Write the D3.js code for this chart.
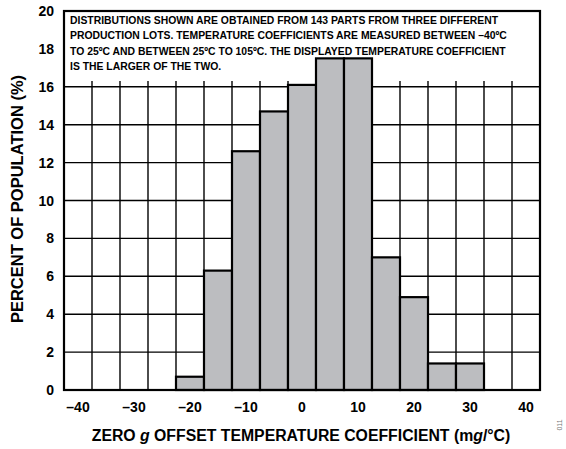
<!DOCTYPE html>
<html>
<head>
<meta charset="utf-8">
<script src="https://cdn.jsdelivr.net/npm/d3@7"></script>
<style>
  body { margin: 0; background: #fff; }
  text { font-family: "Liberation Sans", Arial, sans-serif; font-weight: bold; }
</style>
</head>
<body>
<div id="chart"></div>
<script>
// bin centres (mg/°C) and percent of population
let binCenters = [-20, -15, -10, -5, 0, 5, 10, 15, 20, 25, 30];
let percents = [0.7, 6.3, 12.6, 14.7, 16.1, 17.5, 17.5, 7.0, 4.9, 1.4, 1.4];
let xTicks = [-40, -30, -20, -10, 0, 10, 20, 30, 40];
let yTicks = [0, 2, 4, 6, 8, 10, 12, 14, 16, 18, 20];
let gridY = [2, 4, 6, 8, 10, 12, 14, 16];
let noteLines = [
    "DISTRIBUTIONS SHOWN ARE OBTAINED FROM 143 PARTS FROM THREE DIFFERENT",
    "PRODUCTION LOTS. TEMPERATURE COEFFICIENTS ARE MEASURED BETWEEN \u201340\u00baC",
    "TO 25\u00baC AND BETWEEN 25\u00baC TO 105\u00baC. THE DISPLAYED TEMPERATURE COEFFICIENT",
    "IS THE LARGER OF THE TWO."
];
let binWidth = 5;

let width = 566, height = 449;
let margin = { top: 11, right: 26, bottom: 59, left: 64 };
let plotW = width - margin.left - margin.right;
let plotH = height - margin.top - margin.bottom;

let svg = d3.select("#chart")
    .append("svg")
    .attr("width", width)
    .attr("height", height);

let g = svg.append("g")
    .attr("transform", `translate(${margin.left}, ${margin.top})`);

let x = d3.scaleLinear().domain([-42.5, 42.5]).range([0, plotW]);
let y = d3.scaleLinear().domain([0, 20]).range([plotH, 0]);

// vertical grid lines at bin edges
let edges = d3.range(-42.5, 42.6, binWidth);
g.selectAll(".vgrid")
    .data(edges)
    .enter()
    .append("line")
    .attr("x1", d => x(d))
    .attr("x2", d => x(d))
    .attr("y1", y(0))
    .attr("y2", y(16.3))
    .attr("stroke", "#000")
    .attr("stroke-width", 1.4);

g.selectAll(".hgrid")
    .data(gridY)
    .enter()
    .append("line")
    .attr("x1", 0)
    .attr("x2", plotW)
    .attr("y1", d => y(d))
    .attr("y2", d => y(d))
    .attr("stroke", "#000")
    .attr("stroke-width", 1.4);

// bars
g.selectAll(".bar")
    .data(binCenters)
    .enter()
    .append("rect")
    .attr("x", d => x(d - binWidth / 2))
    .attr("width", x(binWidth) - x(0))
    .attr("y", (d, i) => y(percents[i]))
    .attr("height", (d, i) => y(0) - y(percents[i]))
    .attr("fill", "#bcbdc0")
    .attr("stroke", "#000")
    .attr("stroke-width", 2.2);

// note text
g.selectAll(".note")
    .data(noteLines)
    .enter()
    .append("text")
    .attr("x", 6)
    .attr("y", (d, i) => 12.5 + i * 15.5)
    .style("font-size", "10.4px")
    .text(d => d);

// frame
g.append("rect")
    .attr("width", plotW)
    .attr("height", plotH)
    .attr("fill", "none")
    .attr("stroke", "#000")
    .attr("stroke-width", 2.2);

// y tick labels
g.selectAll(".ylab")
    .data(yTicks)
    .enter()
    .append("text")
    .attr("x", -10)
    .attr("y", d => y(d) + 5)
    .attr("text-anchor", "end")
    .style("font-size", "14px")
    .text(d => d);

// x tick labels
g.selectAll(".xlab")
    .data(xTicks)
    .enter()
    .append("text")
    .attr("x", d => x(d))
    .attr("y", plotH + 22)
    .attr("text-anchor", "middle")
    .style("font-size", "14px")
    .text(d => d < 0 ? "\u2013" + Math.abs(d) : d);

// axis titles
let xt = svg.append("text")
    .attr("x", 301)
    .attr("y", 441)
    .attr("text-anchor", "middle")
    .style("font-size", "15.8px");
xt.append("tspan").text("ZERO ");
xt.append("tspan").style("font-style", "italic").text("g");
xt.append("tspan").text(" OFFSET TEMPERATURE COEFFICIENT (m");
xt.append("tspan").style("font-style", "italic").text("g");
xt.append("tspan").text("/\u00b0C)");

svg.append("text")
    .attr("transform", "translate(23, 199) rotate(-90)")
    .attr("text-anchor", "middle")
    .style("font-size", "16.5px")
    .text("PERCENT OF POPULATION (%)");

svg.append("text")
    .attr("transform", "translate(562, 425) rotate(-90)")
    .attr("text-anchor", "middle")
    .style("font-size", "7px")
    .style("font-weight", "normal")
    .attr("fill", "#777")
    .text("011");
</script>
</body>
</html>
